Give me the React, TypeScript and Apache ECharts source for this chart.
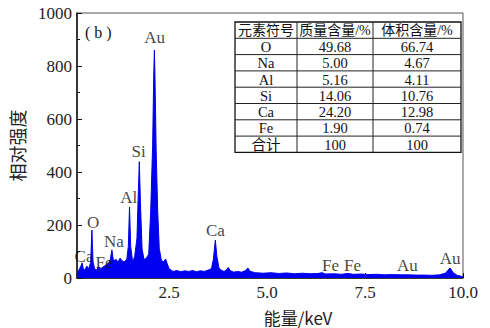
import React, { useEffect, useRef } from "react";
import * as echarts from "echarts";

// Spectrum (energy in keV, relative intensity)
const energy = [
  0.15, 0.2, 0.25, 0.28, 0.31, 0.35, 0.4, 0.45, 0.5, 0.53, 0.56, 0.6, 0.65, 0.7, 0.75, 0.8, 0.85, 0.9, 0.95,
  1.0, 1.04, 1.08, 1.15, 1.2, 1.25, 1.3, 1.35, 1.42, 1.46, 1.49, 1.52, 1.57, 1.62, 1.68, 1.71, 1.74, 1.77,
  1.81, 1.86, 1.92, 1.98, 2.03, 2.08, 2.11, 2.125, 2.14, 2.17, 2.21, 2.25, 2.3, 2.34, 2.38, 2.41, 2.45, 2.5,
  2.55, 2.6, 2.7, 2.8, 2.9, 3.0, 3.1, 3.2, 3.3, 3.4, 3.5, 3.58, 3.63, 3.68, 3.72, 3.77, 3.82, 3.9, 3.96,
  4.01, 4.06, 4.15, 4.25, 4.35, 4.45, 4.51, 4.57, 4.7, 4.9, 5.1, 5.3, 5.5, 5.7, 5.9, 6.1, 6.3, 6.4, 6.5,
  6.7, 6.9, 7.06, 7.2, 7.4, 7.6, 7.8, 8.0, 8.2, 8.4, 8.6, 8.8, 9.0, 9.2, 9.4, 9.55, 9.67, 9.75, 9.85, 10.0,
];
const counts = [
  20, 30, 45, 57, 35, 30, 45, 35, 60, 181, 60, 35, 30, 42, 35, 40, 45, 50, 55,
  70, 106, 65, 70, 60, 75, 65, 60, 70, 120, 268, 120, 60, 80, 150, 300, 439, 280,
  110, 70, 75, 90, 250, 500, 780, 860, 760, 480, 250, 110, 70, 60, 65, 72, 55, 35,
  30, 25, 28, 24, 27, 25, 28, 24, 27, 25, 30, 35, 70, 143, 80, 40, 30, 25, 30,
  40, 28, 22, 25, 22, 28, 38, 25, 20, 18, 20, 17, 19, 16, 18, 16, 17, 20, 15,
  16, 14, 17, 14, 15, 13, 14, 12, 13, 12, 12, 11, 11, 10, 12, 18, 38, 20, 10, 5,
];

// Peak annotations: [label, energy, intensity]
const peakLabels = ["Au", "Si", "Al", "O", "Na", "Ca", "Fe", "Ca", "Fe", "Fe", "Au", "Au"];
const peakEnergy = [2.13, 1.72, 1.47, 0.56, 1.09, 0.33, 0.84, 3.68, 6.62, 7.18, 8.58, 9.67];
const peakValue = [906, 479, 302, 208, 136, 83, 60, 181, 49, 49, 49, 75];

const xTicks = [2.5, 5.0, 7.5, 10.0];
const yTicks = [0, 200, 400, 600, 800, 1000];

// Table
const tableHeader = ["元素符号", "质量含量/%", "体积含量/%"];
const tableElements = ["O", "Na", "Al", "Si", "Ca", "Fe", "合计"];
const massPct = ["49.68", "5.00", "5.16", "14.06", "24.20", "1.90", "100"];
const volPct = ["66.74", "4.67", "4.11", "10.76", "12.98", "0.74", "100"];

const SERIF = "'Liberation Serif', 'Noto Sans CJK SC', serif";

function buildTable(): any[] {
  const left = 235;
  const top = 22;
  const colW = [62, 76, 88];
  const rowH = 16.3;
  const rows = [tableHeader, ...tableElements.map((e, i) => [e, massPct[i], volPct[i]])];
  const totalW = colW.reduce((a, b) => a + b, 0);
  const totalH = rowH * rows.length;
  const els: any[] = [];
  els.push({
    type: "rect",
    shape: { x: left, y: top, width: totalW, height: totalH },
    style: { fill: "#fff", stroke: "#111", lineWidth: 1.3 },
    z: 10,
  });
  for (let r = 1; r < rows.length; r++) {
    els.push({
      type: "line",
      shape: { x1: left, y1: top + r * rowH, x2: left + totalW, y2: top + r * rowH },
      style: { stroke: "#222", lineWidth: 1 },
      z: 11,
    });
  }
  let cx = left;
  for (let c = 0; c < colW.length - 1; c++) {
    cx += colW[c];
    els.push({
      type: "line",
      shape: { x1: cx, y1: top, x2: cx, y2: top + totalH },
      style: { stroke: "#222", lineWidth: 1 },
      z: 11,
    });
  }
  rows.forEach((row, r) => {
    let x0 = left;
    row.forEach((cell, c) => {
      els.push({
        type: "text",
        x: x0 + colW[c] / 2,
        y: top + r * rowH + rowH / 2 + 0.5,
        style: {
          text: cell,
          fontFamily: SERIF,
          fontSize: r === 0 ? 14 : 14.5,
          fill: "#111",
          align: "center",
          verticalAlign: "middle",
        },
        z: 12,
      });
      x0 += colW[c];
    });
  });
  return els;
}

export default function App() {
  const ref = useRef<HTMLDivElement>(null);
  useEffect(() => {
    if (!ref.current) return;
    const chart = echarts.init(ref.current, undefined, { renderer: "svg" });
    const spectrum = energy.map((e, i) => [e, counts[i]]);
    const labels = peakLabels.map((l, i) => ({ value: [peakEnergy[i], peakValue[i]], name: l }));
    chart.setOption({
      animation: false,
      backgroundColor: "#fff",
      grid: {
        left: 75,
        right: 27,
        top: 13,
        bottom: 50,
        show: true,
        borderColor: "#555",
        borderWidth: 1,
        backgroundColor: "#fff",
      },
      xAxis: {
        type: "value",
        min: 0.15,
        max: 10,
        axisLine: { lineStyle: { color: "#111", width: 1.5 } },
        axisTick: { inside: true, length: 5, customValues: xTicks, lineStyle: { color: "#111" } },
        axisLabel: {
          customValues: xTicks,
          formatter: (v: number) => v.toFixed(1),
          fontFamily: SERIF,
          fontSize: 17,
          color: "#222",
          margin: 6,
        },
        splitLine: { show: false },
      },
      yAxis: {
        type: "value",
        min: 0,
        max: 1000,
        interval: 200,
        name: "相对强度",
        nameLocation: "middle",
        nameGap: 51,
        nameRotate: 90,
        nameTextStyle: { fontFamily: "'Noto Sans CJK SC', sans-serif", fontSize: 18, color: "#222" },
        axisLine: { show: true, lineStyle: { color: "#111", width: 1.5 } },
        axisTick: { show: true, inside: true, length: 5, lineStyle: { color: "#111" } },
        minorTick: { show: true, splitNumber: 2, length: 3, lineStyle: { color: "#111" } },
        axisLabel: {
          formatter: (v: number) => (yTicks.includes(v) ? String(v) : ""),
          fontFamily: SERIF,
          fontSize: 17,
          color: "#222",
          margin: 5,
        },
        splitLine: { show: false },
      },
      series: [
        {
          type: "line",
          data: spectrum,
          symbol: "none",
          lineStyle: { color: "#0000ee", width: 1 },
          areaStyle: { color: "#0000f0", opacity: 1 },
          z: 2,
        },
        {
          type: "scatter",
          data: labels,
          symbolSize: 1,
          itemStyle: { color: "rgba(0,0,0,0)" },
          label: {
            show: true,
            position: "inside",
            formatter: (p: any) => p.name,
            fontFamily: SERIF,
            fontSize: 17,
            color: "#111",
          },
          z: 5,
        },
      ],
      graphic: [
        {
          type: "text",
          x: 85,
          y: 32,
          style: {
            text: "( b )",
            fontFamily: SERIF,
            fontSize: 16,
            fill: "#111",
            align: "left",
            verticalAlign: "middle",
          },
        },
        {
          type: "text",
          x: 298,
          y: 317,
          style: {
            text: "能量/keV",
            fontFamily: "'Noto Sans CJK SC', 'Liberation Serif', sans-serif",
            fontSize: 17,
            fill: "#222",
            align: "center",
            verticalAlign: "middle",
          },
        },
        ...buildTable(),
      ],
    });
    return () => chart.dispose();
  }, []);
  return (
    <div
      ref={ref}
      style={{ position: "fixed", left: 0, top: 0, width: 490, height: 328, background: "#fff" }}
    />
  );
}
